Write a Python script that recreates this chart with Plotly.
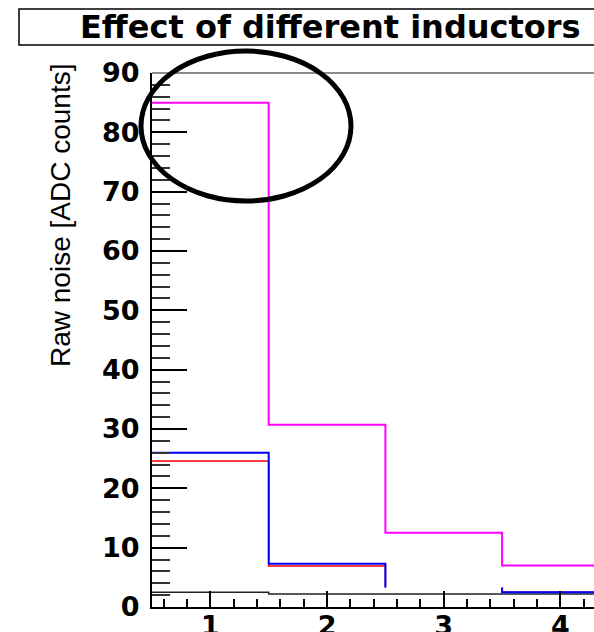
import plotly.graph_objects as go

# ---- data ----
bin_edges = [0.5, 1.5, 2.5, 3.5, 4.5, 5.5]
magenta_vals = [85.0, 30.7, 12.5, 7.0, 7.0]
blue_vals = [26.0, 7.3, 3.3, 2.5, 2.5]
blue_hidden = [False, False, True, False, False]
red_vals = [24.6, 6.9, 3.3, 2.5, 2.5]
red_hidden = [False, False, True, False, False]
black_vals = [2.5, 2.2, 2.2, 2.2, 2.2]

title_text = "Effect of different inductors"
y_title = "Raw noise [ADC counts]"
x_tickvals = [1, 2, 3, 4]
y_tickvals = [0, 10, 20, 30, 40, 50, 60, 70, 80, 90]


def step_path(edges, vals, hidden=None):
    xs, ys = [], []
    n = len(vals)
    for i in range(n):
        h = hidden[i] if hidden else False
        lo, hi = edges[i], edges[i + 1]
        if h:
            xs += [lo, None, hi]
            ys += [vals[i], None, vals[i]]
        else:
            xs += [lo, hi]
            ys += [vals[i], vals[i]]
    return xs, ys


fig = go.Figure()
series = [
    (black_vals, None, "#222222", 1.5),
    (red_vals, red_hidden, "#ff0000", 1.5),
    (blue_vals, blue_hidden, "#0000ff", 2),
    (magenta_vals, None, "#ff00ff", 2),
]
for vals, hid, col, w in series:
    xs, ys = step_path(bin_edges, vals, hid)
    fig.add_trace(go.Scatter(x=xs, y=ys, mode="lines",
                             line=dict(color=col, width=w),
                             connectgaps=False, showlegend=False,
                             hoverinfo="skip"))

tickfont = dict(family="DejaVu Sans", size=27, color="black")

fig.update_layout(
    width=594, height=632,
    margin=dict(l=152, r=0, t=73, b=25, pad=0),
    paper_bgcolor="white", plot_bgcolor="white",
    showlegend=False,
    xaxis=dict(range=[0.5, 0.5 + 442 / 116.7], tickvals=x_tickvals,
               ticktext=[f"<b>{v}</b>" for v in x_tickvals],
               ticks="inside", ticklen=16, tickwidth=1.5, tickcolor="black",
               minor=dict(dtick=0.2, tick0=0, ticks="inside", ticklen=8,
                          tickwidth=1.5, tickcolor="black", showgrid=False),
               showline=True, linecolor="black", linewidth=2,
               showgrid=False, zeroline=False, tickfont=tickfont,
               ticklabelstandoff=-6, automargin=False),
    yaxis=dict(range=[0, 90], tickvals=y_tickvals,
               ticktext=[f"<b>{v}</b>" for v in y_tickvals],
               ticks="inside", ticklen=35, tickwidth=1.5, tickcolor="black",
               minor=dict(dtick=2, tick0=0, ticks="inside", ticklen=18,
                          tickwidth=1.5, tickcolor="#333333", showgrid=False),
               showline=True, linecolor="black", linewidth=2,
               showgrid=False, zeroline=False, tickfont=tickfont,
               ticklabelstandoff=5, automargin=False),
    shapes=[
        # top frame line
        dict(type="line", xref="paper", yref="paper", x0=0, x1=1.01, y0=1, y1=1,
             line=dict(color="#666666", width=1.5)),
        # title box
        dict(type="rect", xref="paper", yref="paper",
             x0=(19 - 152) / 442, x1=1.05,
             y0=(607 - 45) / 534, y1=(607 - 9) / 534,
             line=dict(color="black", width=1.5), fillcolor="white", layer="below"),
        # annotation ellipse
        dict(type="circle", xref="paper", yref="paper",
             x0=-0.0249, x1=0.4502, y0=0.7603, y1=1.0412,
             line=dict(color="black", width=5)),
    ],
    annotations=[
        dict(text=f"<b>{title_text}</b>", xref="paper", yref="paper",
             x=(78 - 152) / 442, y=(607 - 27) / 534, xanchor="left", yanchor="middle",
             showarrow=False, font=dict(family="DejaVu Sans", size=32, color="black")),
        dict(text=y_title, xref="paper", yref="paper",
             x=(60 - 152) / 442, y=(607 - 216) / 534, xanchor="center", yanchor="middle",
             textangle=-90, showarrow=False,
             font=dict(family="Liberation Sans, Arial", size=28, color="black")),
    ],
)

fig.write_html("out.html")
